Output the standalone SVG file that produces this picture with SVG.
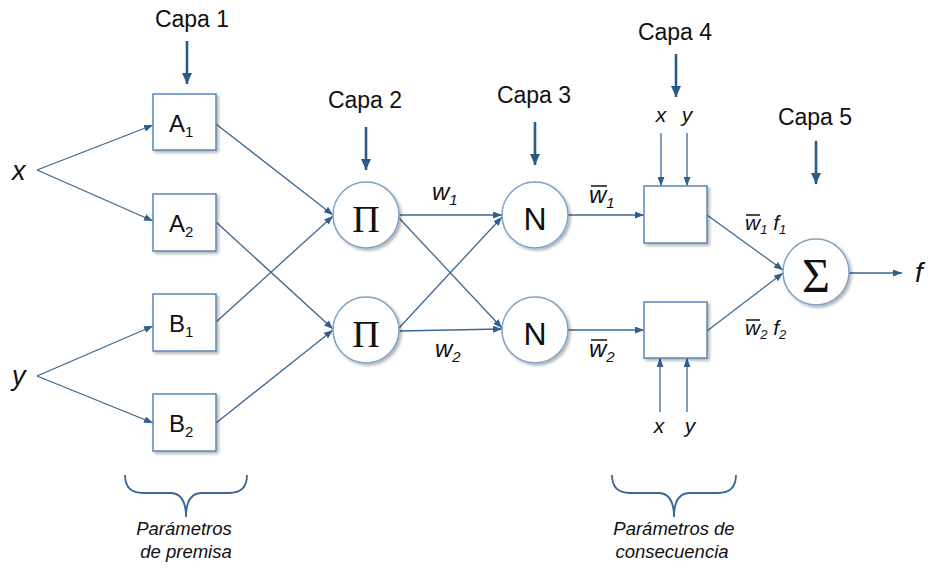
<svg xmlns="http://www.w3.org/2000/svg" width="932" height="568" viewBox="0 0 932 568">
<style>
  .box { fill: #fff; stroke: #5a86b6; stroke-width: 1.5; filter: url(#sh); }
  .circ { fill: #fff; stroke: #7ea2c6; stroke-width: 1.5; filter: url(#sh); }
  .edge { fill: none; stroke: #3a6894; stroke-width: 1.3; marker-end: url(#ah); }
  .layer { fill: none; stroke: #2a5a86; stroke-width: 2.6; marker-end: url(#ahb); }
  .brace { fill: none; stroke: #3a6894; stroke-width: 1.8; }
  .t { font-family: "Liberation Sans", Arial, sans-serif; fill: #111; }
  .cap { font-size: 23px; text-anchor: middle; }
  .it { font-style: italic; }
  .ovl { stroke: #111; stroke-width: 1.5; }
</style>
<defs>
  <filter id="sh" x="-20%" y="-20%" width="150%" height="150%">
    <feDropShadow dx="2" dy="2" stdDeviation="1.5" flood-color="#000" flood-opacity="0.3"/>
  </filter>
  <marker id="ah" markerUnits="userSpaceOnUse" markerWidth="9" markerHeight="7" refX="9" refY="3.5" orient="auto">
    <path d="M0,0 L9,3.5 L0,7 z" fill="#2f5f8f"/>
  </marker>
  <marker id="ahb" markerUnits="userSpaceOnUse" markerWidth="11" markerHeight="10" refX="11" refY="5" orient="auto">
    <path d="M0,0 L11,5 L0,10 z" fill="#2a5a86"/>
  </marker>
</defs>
<rect width="932" height="568" fill="#fff"/>

<!-- layer labels -->
<g id="layers">
  <text class="t cap" x="192" y="27">Capa 1</text>
  <text class="t cap" x="365" y="108">Capa 2</text>
  <text class="t cap" x="534" y="103">Capa 3</text>
  <text class="t cap" x="675" y="40">Capa 4</text>
  <text class="t cap" x="815" y="125">Capa 5</text>
  <line class="layer" x1="187" y1="41" x2="187" y2="84"/>
  <line class="layer" x1="366" y1="127" x2="366" y2="170"/>
  <line class="layer" x1="535" y1="122" x2="535" y2="165"/>
  <line class="layer" x1="676" y1="54" x2="676" y2="97"/>
  <line class="layer" x1="816" y1="141" x2="816" y2="184"/>
</g>

<!-- connectors -->
<g id="connectors">
  <line class="edge" x1="37" y1="170" x2="153" y2="125"/>
  <line class="edge" x1="37" y1="170" x2="153" y2="221"/>
  <line class="edge" x1="37" y1="376" x2="153" y2="326"/>
  <line class="edge" x1="37" y1="376" x2="153" y2="423"/>
  <line class="edge" x1="216" y1="124" x2="333" y2="215"/>
  <line class="edge" x1="216" y1="222" x2="333" y2="329"/>
  <line class="edge" x1="216" y1="322" x2="333" y2="216"/>
  <line class="edge" x1="216" y1="423" x2="333" y2="330"/>
  <line class="edge" x1="399" y1="215" x2="502" y2="215"/>
  <line class="edge" x1="399" y1="218" x2="502" y2="328"/>
  <line class="edge" x1="399" y1="328" x2="502" y2="217"/>
  <line class="edge" x1="399" y1="331" x2="502" y2="329"/>
  <line class="edge" x1="567" y1="215" x2="644" y2="215"/>
  <line class="edge" x1="567" y1="330" x2="644" y2="330"/>
  <line class="edge" x1="661" y1="133" x2="661" y2="186"/>
  <line class="edge" x1="687" y1="133" x2="687" y2="186"/>
  <line class="edge" x1="660" y1="412" x2="660" y2="358"/>
  <line class="edge" x1="687" y1="412" x2="687" y2="358"/>
  <line class="edge" x1="707" y1="215" x2="783" y2="270"/>
  <line class="edge" x1="707" y1="331" x2="783" y2="273"/>
  <line class="edge" x1="849" y1="273" x2="902" y2="273"/>
</g>

<!-- inputs -->
<g id="input-x"><text class="t it" x="12" y="180" font-size="27">x</text></g>
<g id="input-y"><text class="t it" x="12" y="385" font-size="27">y</text></g>

<!-- layer 1 -->
<g id="A1">
  <rect class="box" x="153" y="94" width="63" height="56"/>
  <text class="t" x="169" y="132" font-size="24">A<tspan font-size="15" dy="5">1</tspan></text>
</g>
<g id="A2">
  <rect class="box" x="153" y="194" width="63" height="57"/>
  <text class="t" x="169" y="232" font-size="24">A<tspan font-size="15" dy="5">2</tspan></text>
</g>
<g id="B1">
  <rect class="box" x="153" y="294" width="63" height="57"/>
  <text class="t" x="169" y="332" font-size="24">B<tspan font-size="15" dy="5">1</tspan></text>
</g>
<g id="B2">
  <rect class="box" x="153" y="394" width="63" height="57"/>
  <text class="t" x="169" y="432" font-size="24">B<tspan font-size="15" dy="5">2</tspan></text>
</g>

<!-- layer 2 -->
<g id="P1">
  <circle class="circ" cx="366" cy="215" r="33"/>
  <text x="366" y="232" font-family="Liberation Serif, serif" font-size="38" text-anchor="middle" fill="#111">Π</text>
</g>
<g id="P2">
  <circle class="circ" cx="366" cy="330" r="33"/>
  <text x="366" y="347" font-family="Liberation Serif, serif" font-size="38" text-anchor="middle" fill="#111">Π</text>
</g>

<!-- layer 3 -->
<g id="N1">
  <circle class="circ" cx="535" cy="215" r="33"/>
  <text class="t" x="535" y="230" font-size="32" text-anchor="middle">N</text>
</g>
<g id="N2">
  <circle class="circ" cx="535" cy="330" r="33"/>
  <text class="t" x="535" y="345" font-size="32" text-anchor="middle">N</text>
</g>

<!-- layer 4 -->
<g id="L4a">
  <rect class="box" x="644" y="186" width="63" height="57"/>
</g>
<g id="L4b">
  <rect class="box" x="644" y="302" width="63" height="56"/>
</g>

<!-- layer 5 -->
<g id="S">
  <circle class="circ" cx="816" cy="272" r="33"/>
  <text x="816" y="292" font-family="Liberation Serif, serif" font-size="48" text-anchor="middle" fill="#111">Σ</text>
</g>
<g id="output"><text class="t it" x="915" y="282" font-size="28">f</text></g>

<!-- edge labels -->
<g id="labels">
  <text class="t it" x="432" y="200" font-size="24">w<tspan font-size="15" dy="5">1</tspan></text>
  <text class="t it" x="435" y="357" font-size="24">w<tspan font-size="15" dy="5">2</tspan></text>

  <text class="t it" x="589" y="203" font-size="24">w<tspan font-size="15" dy="5">1</tspan></text>
  <line class="ovl" x1="591" y1="186" x2="607" y2="186"/>
  <text class="t it" x="589" y="357" font-size="24">w<tspan font-size="15" dy="5">2</tspan></text>
  <line class="ovl" x1="591" y1="340" x2="607" y2="340"/>

  <text class="t it" x="745" y="230" font-size="21">w<tspan font-size="13" dy="4">1</tspan><tspan dy="-4"> f</tspan><tspan font-size="13" dy="4">1</tspan></text>
  <line class="ovl" x1="746" y1="215" x2="760" y2="215"/>
  <text class="t it" x="745" y="335" font-size="21">w<tspan font-size="13" dy="4">2</tspan><tspan dy="-4"> f</tspan><tspan font-size="13" dy="4">2</tspan></text>
  <line class="ovl" x1="746" y1="320" x2="760" y2="320"/>

  <text class="t it" x="661" y="122" font-size="21" text-anchor="middle">x</text>
  <text class="t it" x="687" y="122" font-size="21" text-anchor="middle">y</text>
  <text class="t it" x="659" y="433" font-size="21" text-anchor="middle">x</text>
  <text class="t it" x="690" y="433" font-size="21" text-anchor="middle">y</text>
</g>

<!-- braces -->
<g id="premisa">
  <path class="brace" d="M125,475 Q125,493 143,493 H170 Q186,493 186,517 Q186,493 202,493 H229 Q247,493 247,475"/>
  <text class="t it" x="184" y="535" font-size="18.5" text-anchor="middle">Parámetros</text>
  <text class="t it" x="186" y="558" font-size="18.5" text-anchor="middle">de premisa</text>
</g>
<g id="consecuencia">
  <path class="brace" d="M612,475 Q612,493 630,493 H658 Q674,493 674,517 Q674,493 690,493 H718 Q736,493 736,475"/>
  <text class="t it" x="674" y="535" font-size="18.5" text-anchor="middle">Parámetros de</text>
  <text class="t it" x="672" y="558" font-size="18.5" text-anchor="middle">consecuencia</text>
</g>
</svg>
